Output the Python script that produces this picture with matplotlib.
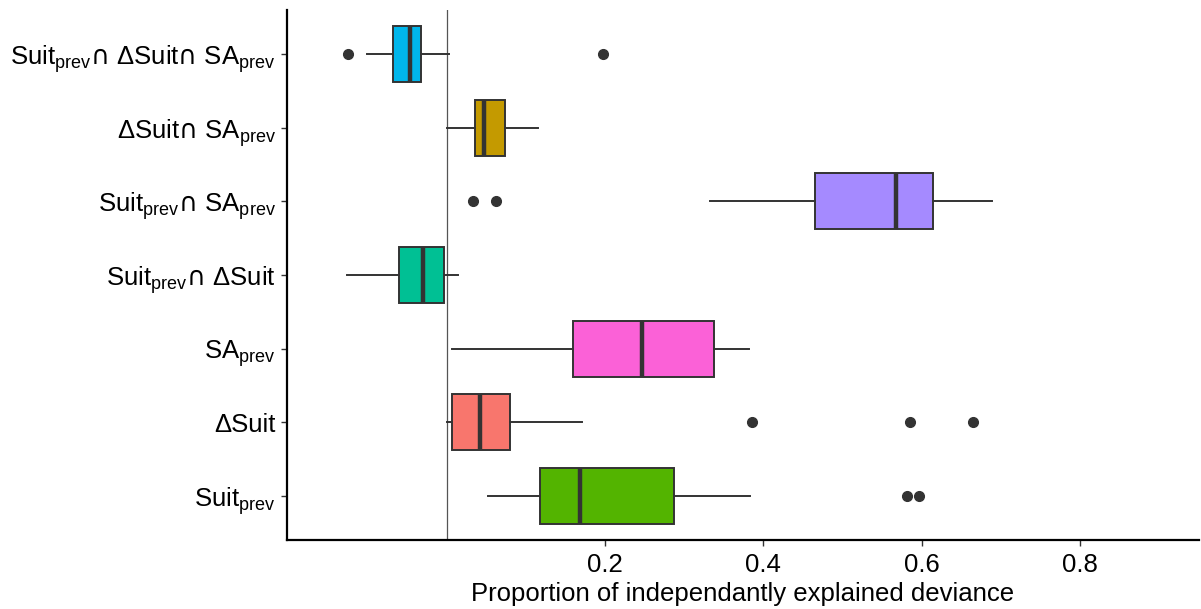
import matplotlib
matplotlib.use('Agg')
import matplotlib.pyplot as plt

plt.rcParams['font.family'] = ['Liberation Sans', 'DejaVu Sans']
plt.rcParams['mathtext.fontset'] = 'custom'
plt.rcParams['mathtext.rm'] = 'Liberation Sans'
plt.rcParams['mathtext.it'] = 'Liberation Sans'
plt.rcParams['mathtext.bf'] = 'Liberation Sans'
plt.rcParams['mathtext.sf'] = 'DejaVu Sans'

# components of deviance partitioning, bottom to top
labels = [r'Suit$_{\mathrm{prev}}$',
          r'ΔSuit',
          r'SA$_{\mathrm{prev}}$',
          r'Suit$_{\mathrm{prev}}\mathsf{∩}$ ΔSuit',
          r'Suit$_{\mathrm{prev}}\mathsf{∩}$ SA$_{\mathrm{prev}}$',
          r'ΔSuit$\mathsf{∩}$ SA$_{\mathrm{prev}}$',
          r'Suit$_{\mathrm{prev}}\mathsf{∩}$ ΔSuit$\mathsf{∩}$ SA$_{\mathrm{prev}}$']
whislo = [0.052, 0.001, 0.0069, -0.126, 0.3328, 0.0006, -0.1008]
q1 = [0.1185, 0.0069, 0.1597, -0.0600, 0.4658, 0.036, -0.0672]
med = [0.1682, 0.0419, 0.2469, -0.0297, 0.5674, 0.0474, -0.0461]
q3 = [0.2874, 0.0802, 0.3378, -0.0032, 0.6149, 0.0739, -0.0326]
whishi = [0.3834, 0.1715, 0.382, 0.0145, 0.6894, 0.1156, 0.0035]
outliers = [[0.5817, 0.5968],
            [0.3859, 0.5855, 0.665],
            [],
            [],
            [0.0335, 0.0625],
            [],
            [-0.124, 0.1977]]
fills = ['#53B400', '#F8766D', '#FB61D7', '#00C094', '#A58AFF', '#C49A00', '#00B6EB']

stats = []
for i in range(len(labels)):
    stats.append(dict(label=labels[i], whislo=whislo[i], q1=q1[i], med=med[i],
                      q3=q3[i], whishi=whishi[i], fliers=outliers[i]))

fig = plt.figure(figsize=(12.01, 6.09), dpi=100)
ax = fig.add_axes([287 / 1201, 1 - 540 / 609, 912 / 1201, 530 / 609])

ax.axvline(0, color='#555555', lw=0.9, zorder=0)

edge = '#333333'
bp = ax.bxp(stats, positions=range(1, len(labels) + 1), vert=False, widths=0.76,
            patch_artist=True, showcaps=False,
            boxprops=dict(edgecolor=edge, linewidth=1.4),
            whiskerprops=dict(color=edge, linewidth=1.4),
            medianprops=dict(color=edge, linewidth=3.2),
            flierprops=dict(marker='o', markerfacecolor=edge, markeredgecolor=edge,
                            markersize=7))
for patch, c in zip(bp['boxes'], fills):
    patch.set_facecolor(c)

ax.set_xlim(-0.2015, 0.9505)
ax.set_ylim(0.4, 7.6)
ax.set_xticks([0.2, 0.4, 0.6, 0.8])
ax.set_xticklabels(['0.2', '0.4', '0.6', '0.8'])
ax.set_yticks(range(1, len(labels) + 1))
ax.set_yticklabels(labels)
ax.tick_params(axis='both', labelsize=18.5, colors='#333333', length=4, width=1,
               labelcolor='black', pad=4)
ax.tick_params(axis='x', pad=5)
ax.set_xlabel('Proportion of independantly explained deviance', fontsize=18.5, labelpad=4)

for side in ['top', 'right']:
    ax.spines[side].set_visible(False)
for side in ['left', 'bottom']:
    ax.spines[side].set_linewidth(1.6)
    ax.spines[side].set_color('black')

fig.savefig('out.png', dpi=100)
